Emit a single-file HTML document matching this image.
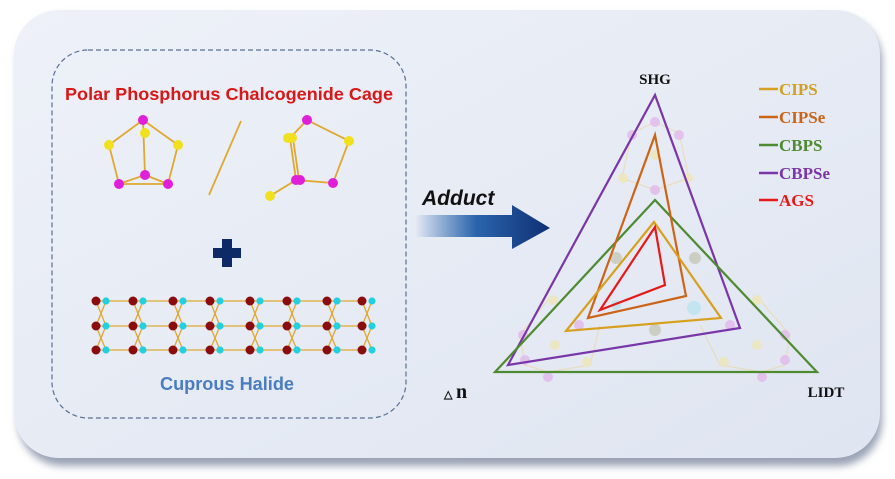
<!DOCTYPE html>
<html><head><meta charset="utf-8"><style>
html,body{margin:0;padding:0;background:#fff;width:895px;height:479px;overflow:hidden}
</style></head><body>
<svg width="895" height="479" viewBox="0 0 895 479" xmlns="http://www.w3.org/2000/svg">
<defs>
<linearGradient id="bg" x1="0" y1="0" x2="1" y2="1">
<stop offset="0" stop-color="#eef1f8"/><stop offset="1" stop-color="#dfe5f1"/></linearGradient>
<linearGradient id="ar" x1="0" y1="0" x2="1" y2="0">
<stop offset="0" stop-color="#1c5aa8" stop-opacity="0"/><stop offset="0.45" stop-color="#2b65ad"/><stop offset="1" stop-color="#0f2f72"/></linearGradient>
<filter id="sh" x="-5%" y="-5%" width="110%" height="115%"><feGaussianBlur stdDeviation="4"/></filter>
<g id="col">
<g stroke="#e0a830" stroke-width="1.3">
<line x1="0" y1="0" x2="37" y2="0"/><line x1="0" y1="25" x2="37" y2="25"/><line x1="0" y1="49" x2="37" y2="49"/>
<line x1="0" y1="0" x2="10" y2="25"/><line x1="10" y1="0" x2="0" y2="25"/><line x1="0" y1="25" x2="10" y2="49"/><line x1="10" y1="25" x2="0" y2="49"/>
</g>
<circle cx="10" cy="0" r="3.6" fill="#22d0e0"/><circle cx="10" cy="25" r="3.6" fill="#22d0e0"/><circle cx="10" cy="49" r="3.6" fill="#22d0e0"/>
<circle cx="0" cy="0" r="4.5" fill="#8a0c0c"/><circle cx="0" cy="25" r="4.5" fill="#8a0c0c"/><circle cx="0" cy="49" r="4.5" fill="#8a0c0c"/>
</g>
</defs>
<rect x="18" y="16" width="864" height="450" rx="45" fill="#9aa3b5" filter="url(#sh)"/>
<rect x="14" y="10" width="866" height="448" rx="45" fill="url(#bg)"/>
<rect x="52" y="50" width="354" height="368" rx="36" fill="none" stroke="#5a6f94" stroke-width="1.2" stroke-dasharray="5,3"/>
<text x="229" y="100" text-anchor="middle" font-family="Liberation Sans, sans-serif" font-weight="bold" font-size="17.5" fill="#d81818" textLength="328" lengthAdjust="spacingAndGlyphs">Polar Phosphorus Chalcogenide Cage</text>
<g stroke="#e0a830" stroke-width="1.8" fill="none">
<polyline points="143,120 109,145 119,184 168,184 178,145 143,120"/>
<line x1="143" y1="120" x2="145" y2="175"/><line x1="119" y1="184" x2="145" y2="175"/><line x1="168" y1="184" x2="145" y2="175"/>
<line x1="209" y1="195" x2="241" y2="121"/>
<polyline points="270,196 296,180 290,138 307,120 349,141 333,183 296,180"/>
<line x1="293" y1="138" x2="299" y2="180"/>
</g>
<g fill="#f0e020"><circle cx="145" cy="133" r="5"/><circle cx="109" cy="145" r="5"/><circle cx="178" cy="145" r="5"/>
<circle cx="292" cy="138" r="5"/><circle cx="288" cy="138" r="5"/><circle cx="349" cy="141" r="5"/><circle cx="270" cy="196" r="5"/></g>
<g fill="#e020d8"><circle cx="143" cy="120" r="5"/><circle cx="145" cy="175" r="5"/><circle cx="119" cy="184" r="5"/><circle cx="168" cy="184" r="5"/>
<circle cx="307" cy="120" r="5"/><circle cx="296" cy="180" r="5"/><circle cx="300" cy="180" r="5"/><circle cx="333" cy="183" r="5"/></g>
<path d="M222 239h10v9h9v10h-9v9h-10v-9h-9v-10h9z" fill="#0d2a66"/>
<use href="#col" x="96" y="301"/><use href="#col" x="133" y="301"/><use href="#col" x="173" y="301"/><use href="#col" x="210" y="301"/>
<use href="#col" x="250" y="301"/><use href="#col" x="287" y="301"/><use href="#col" x="327" y="301"/>
<g transform="translate(362,301)"><g stroke="#e0a830" stroke-width="1.3"><line x1="0" y1="0" x2="10" y2="25"/><line x1="10" y1="0" x2="0" y2="25"/><line x1="0" y1="25" x2="10" y2="49"/><line x1="10" y1="25" x2="0" y2="49"/></g>
<circle cx="10" cy="0" r="3.6" fill="#22d0e0"/><circle cx="10" cy="25" r="3.6" fill="#22d0e0"/><circle cx="10" cy="49" r="3.6" fill="#22d0e0"/>
<circle cx="0" cy="0" r="4.5" fill="#8a0c0c"/><circle cx="0" cy="25" r="4.5" fill="#8a0c0c"/><circle cx="0" cy="49" r="4.5" fill="#8a0c0c"/></g>
<text x="227" y="390" text-anchor="middle" font-family="Liberation Sans, sans-serif" font-weight="bold" font-size="18" fill="#4a7cc0" textLength="134" lengthAdjust="spacingAndGlyphs">Cuprous Halide</text>
<text x="422" y="205" font-family="Liberation Sans, sans-serif" font-weight="bold" font-style="italic" font-size="21" fill="#111">Adduct</text>
<path d="M415 215H512V205L550 228L512 249V237H415Z" fill="url(#ar)"/>
<g stroke="#ead9b0" stroke-width="1.2" fill="none" opacity="0.8">
<polyline points="655,122 632,133 622,178 655,190 689,178 679,133 655,122"/>
<polyline points="548,300 520,335 525,365 548,372 590,365 600,325"/>
<polyline points="760,300 790,335 785,365 762,372 720,365 700,325"/>
</g>
<g fill="#e3b8ec" opacity="0.8"><circle cx="655" cy="122" r="5"/><circle cx="632" cy="135" r="5"/><circle cx="679" cy="135" r="5"/><circle cx="655" cy="190" r="5"/>
<circle cx="523" cy="335" r="5"/><circle cx="525" cy="360" r="5"/><circle cx="548" cy="377" r="5"/><circle cx="785" cy="335" r="5"/><circle cx="785" cy="360" r="5"/><circle cx="762" cy="377" r="5"/><circle cx="579" cy="325" r="5"/><circle cx="730" cy="325" r="5"/></g>
<g fill="#efe6b8" opacity="0.8"><circle cx="623" cy="178" r="5"/><circle cx="688" cy="178" r="5"/><circle cx="655" cy="155" r="5"/><circle cx="553" cy="300" r="5"/><circle cx="555" cy="345" r="5"/><circle cx="587" cy="362" r="5"/><circle cx="757" cy="300" r="5"/><circle cx="757" cy="345" r="5"/><circle cx="724" cy="362" r="5"/></g>
<g fill="#c8c8b8" opacity="0.8"><circle cx="616" cy="258" r="6"/><circle cx="695" cy="258" r="6"/><circle cx="655" cy="330" r="6"/></g>
<circle cx="694" cy="308" r="7" fill="#bfe4ee" opacity="0.9"/><circle cx="616" cy="305" r="5" fill="#bfe4ee" opacity="0.9"/>
<g fill="none" stroke-width="2.2" stroke-linejoin="miter">
<polygon points="655,95 508,365 740,328" stroke="#7a35a8"/>
<polygon points="655,200 495,372 817,372" stroke="#4e8a30"/>
<polygon points="655,135 588,318 686,296" stroke="#cc6418"/>
<polygon points="654,222 566,331 721,318" stroke="#d8a020"/>
<polygon points="655,227 600,310 665,285" stroke="#e81818"/>
</g>
<g font-family="Liberation Serif, serif" font-weight="bold" font-size="15">
<text x="655" y="84" text-anchor="middle" fill="#111">SHG</text>
<text x="826" y="397" text-anchor="middle" fill="#111">LIDT</text>
<text x="444" y="398" font-size="11" fill="#111">△</text><text x="456" y="398" font-size="20" fill="#111">n</text>
</g>
<g font-family="Liberation Serif, serif" font-weight="bold" font-size="17" stroke-width="2.4">
<line x1="759" y1="89" x2="778" y2="89" stroke="#d8a020"/><text x="779" y="95" fill="#d0a020">CIPS</text>
<line x1="759" y1="117" x2="778" y2="117" stroke="#cc6418"/><text x="779" y="123" fill="#cc6418">CIPSe</text>
<line x1="759" y1="145" x2="778" y2="145" stroke="#4e8a30"/><text x="779" y="151" fill="#4e8a30">CBPS</text>
<line x1="759" y1="173" x2="778" y2="173" stroke="#7a35a8"/><text x="779" y="179" fill="#7a35a8">CBPSe</text>
<line x1="759" y1="200" x2="778" y2="200" stroke="#e81818"/><text x="779" y="206" fill="#e81818">AGS</text>
</g>
</svg>
</body></html>
